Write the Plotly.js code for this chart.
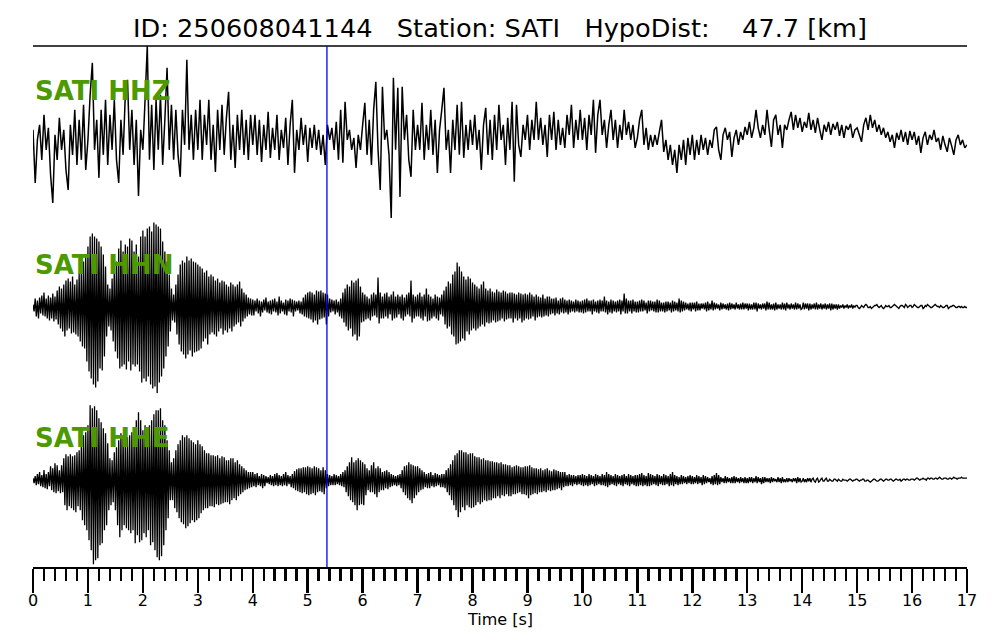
<!DOCTYPE html>
<html>
<head>
<meta charset="utf-8">
<script src="https://cdn.plot.ly/plotly-3.0.1.min.js"></script>
<style>
  html, body { margin: 0; padding: 0; background: #ffffff; }
  #chart { width: 1000px; height: 640px; }
</style>
</head>
<body>
<div id="chart"></div>
<script>
// ---- metadata ----
const eventId = "250608041144";
const station = "SATI";
const hypoDistKm = 47.7;
const channels = ["SATI HHZ", "SATI HHN", "SATI HHE"];
const pickTime = 5.35;                 // blue marker [s]
const sampleIntervals = [0.04, 0.02, 0.02]; // [s] per channel
const xTickLabels = ["0","1","2","3","4","5","6","7","8","9","10","11","12","13","14","15","16","17"];
const xAxisTitle = "Time [s]";

// ---- amplitudes (arbitrary counts), one row per second ----
const hhz = [
  3,-50,-7,8,-27,18,-17,5,-42,-70,-2,-27,15,-17,3,-37,-57,8,-22,23,-32,13,-27,28,-37,
  -7,38,70,-17,13,-45,23,-22,33,-32,18,-17,33,-27,-50,13,-22,38,53,-17,23,-32,13,-63,3,
  -17,33,87,-27,28,-37,33,-17,38,-32,13,65,-17,28,-27,23,-22,-44,23,-12,73,-17,18,-27,23,
  -17,33,-27,18,-12,33,-27,8,-39,23,-17,28,-22,15,41,-27,8,-35,18,-17,23,-22,13,-27,18,
  -12,18,-22,13,-29,8,-17,21,-25,5,-17,18,-27,3,-15,15,-32,8,33,-40,3,-17,15,-12,8,
  -29,5,-15,8,-17,3,-22,-2,-32,8,-7,5,-17,11,-27,23,-30,31,-7,3,-17,-5,-35,-2,-17,
  8,30,-22,13,-32,23,51,-17,-57,46,-7,3,-22,-85,55,-17,45,-64,46,-7,18,-27,-44,23,-17,
  8,-17,30,-27,8,-17,23,-22,13,-40,3,23,45,-17,3,-40,13,-17,28,-22,31,-25,8,-17,13,
  -12,18,-17,3,-37,8,25,-22,13,-27,18,-17,28,-7,8,-32,15,-17,31,-49,28,-12,-24,8,-7,
  18,-17,13,-7,31,-7,15,-12,8,-24,18,-7,21,-17,13,-12,5,-15,18,-2,28,-15,13,-7,23,
  -7,15,-17,18,-2,33,-20,18,33,-2,13,-15,8,23,-7,13,-15,8,-7,23,-2,11,-7,8,-15,
  -5,13,23,-12,5,-17,-2,-14,-2,-12,1,13,-19,-7,-27,-12,-32,-17,-40,-12,-27,-7,-32,-5,-22,
  -2,-27,-7,-22,-2,-17,-5,-22,-7,-15,3,6,-17,-27,-2,5,-7,1,-24,-5,3,-12,1,-7,6,
  -2,11,-5,5,23,5,-5,8,-2,23,3,-14,13,18,-2,8,-15,8,3,13,21,3,18,5,15,
  1,11,5,20,3,13,0,15,3,-7,8,1,11,-2,9,3,11,-3,8,-5,7,3,9,-5,3,
  5,-2,-9,8,15,3,18,5,13,1,8,-2,5,-5,1,-9,-2,-15,0,-7,3,-9,1,-12,2,
  -7,1,-12,-3,-20,-5,1,-12,-2,-7,3,-9,-5,-17,-3,-12,-19,-5,-13,-22,-7,-2,-12,-7,-15,-12
];
const hhn = [
  2,-5,8,-10,6,-12,9,-7,11,-9,14,-10,8,-12,11,-14,9,-12,13,-15,10,-13,16,-18,20,-22,18,-25,22,-30,26,-24,28,-22,25,-27,30,-26,22,-28,27,-30,33,-35,38,-40,45,-42,50,-55,
  60,-65,70,-72,73,-78,70,-81,68,-75,65,-62,60,-64,52,-50,40,-30,22,-20,18,-24,28,-35,40,-45,45,-52,58,-62,66,-60,55,-58,62,-63,60,-55,68,-64,66,-58,55,-60,62,-58,50,-65,70,-76,
  76,-72,70,-75,78,-70,80,-78,75,-82,84,-80,82,-87,80,-76,78,-70,65,-62,55,-50,45,-40,32,-25,18,-14,12,-16,22,-28,32,-38,42,-45,46,-48,44,-52,50,-48,46,-44,48,-50,45,-46,44,-45,
  42,-44,40,-42,38,-35,34,-32,36,-38,30,-28,32,-26,30,-28,26,-30,28,-25,24,-22,26,-28,25,-24,22,-26,20,-22,24,-25,22,-20,20,-18,22,-16,25,-20,18,-15,14,-12,12,-10,9,-8,8,-9,
  7,-9,6,-5,8,-7,6,-10,5,-6,7,-4,9,-6,5,-7,6,-8,7,-5,8,-6,5,-9,10,-7,6,-5,4,-8,7,-9,6,-5,8,-6,7,-10,6,-5,5,-4,6,-7,5,-8,9,-10,12,-11,
  14,-12,15,-13,14,-16,12,-14,16,-18,15,-13,16,-12,14,-11,13,-18,12,-10,8,-6,7,-5,6,-8,7,-6,5,-10,8,-12,14,-16,18,-20,22,-24,20,-22,26,-30,24,-28,26,-34,28,-30,20,-16,
  14,-15,12,-13,10,-12,8,-14,12,-10,14,-9,12,-11,29,-17,14,-12,10,-12,13,-10,14,-12,10,-8,12,-14,15,-12,10,-11,12,-8,10,-12,12,-14,9,-10,12,-8,14,-10,26,-16,12,-12,10,-10,
  12,-10,14,-12,10,-14,12,-10,18,-15,12,-14,10,-12,8,-10,12,-12,10,-14,9,-8,12,-10,16,-18,20,-22,25,-20,23,-28,32,-30,35,-38,44,-37,40,-35,35,-32,30,-34,27,-25,30,-28,28,-24,
  24,-22,22,-24,20,-22,18,-20,22,-18,25,-20,18,-16,16,-17,18,-16,15,-14,14,-16,17,-15,15,-14,14,-12,16,-15,15,-13,13,-12,14,-12,14,-16,13,-12,12,-14,14,-12,13,-16,12,-14,13,-12,
  12,-13,14,-12,12,-10,10,-14,12,-11,10,-10,9,-11,12,-10,8,-9,10,-10,10,-8,8,-7,8,-9,9,-7,6,-8,8,-6,9,-7,7,-6,6,-8,7,-6,6,-5,5,-6,7,-5,6,-6,5,-6,
  6,-7,7,-6,8,-5,6,-5,6,-8,7,-5,5,-6,6,-7,7,-5,6,-5,10,-6,6,-8,5,-6,7,-7,6,-5,5,-6,6,-5,7,-8,6,-5,13,-7,8,-7,6,-5,6,-7,7,-5,5,-6,
  5,-6,6,-5,7,-5,6,-4,4,-7,6,-5,6,-4,5,-5,5,-6,7,-6,6,-5,4,-5,4,-6,5,-5,5,-4,4,-6,6,-5,5,-4,4,-5,8,-6,6,-5,5,-4,4,-3,3,-4,4,-5,
  4,-3,4,-5,5,-4,3,-4,3,-2,3,-3,4,-5,5,-4,3,-3,6,-4,4,-3,3,-2,2,-4,4,-3,3,-2,2,-3,3,-4,4,-3,3,-2,2,-3,4,-2,2,-3,3,-3,4,-3,3,-2,
  3,-4,3,-3,2,-3,4,-3,4,-5,3,-2,2,-3,3,-2,3,-4,5,-3,4,-3,2,-3,3,-4,4,-3,2,-2,2,-3,4,-3,3,-4,4,-2,2,-3,3,-2,2,-3,4,-3,3,-2,2,-3,
  -2,4,-3,3,-2,3,-4,3,-3,2,-2,3,-3,4,-3,2,-2,3,-3,2,-2,3,-3,2,-2,3,-4,3,-3,2,-2,2,-3,2,-2,1,-1,2,-2,1,-1,2,-2,1,-1,2,-2,1,-1,1,
  1,-1,-2,-1,1,0,-1,1,2,1,-1,-1,0,-2,-1,0,1,1,2,0,-1,0,1,-1,-2,-1,1,0,0,1,-1,-1,0,1,2,1,0,-1,-2,0,1,1,0,-1,2,1,-1,0,1,1,
  -1,0,2,1,0,-1,-1,0,1,1,-2,-1,1,0,2,1,0,-1,-1,0,1,2,1,0,0,-1,1,0,-1,-1,0,1,1,-2,-1,0,0,1,1,0,-1,-1,0,0,-1,0,-1,-1,0,-1,-1
];
const hhe = [
  2,-3,4,-5,6,-4,8,-6,5,-7,10,-8,6,-9,8,-6,14,-10,12,-12,17,-13,15,-11,10,-13,15,-12,22,-25,26,-30,24,-26,26,-28,24,-30,25,-32,28,-26,30,-30,35,-40,45,-45,48,-50,
  55,-60,75,-70,72,-84,74,-80,70,-78,62,-65,58,-63,52,-50,47,-45,37,-30,22,-25,20,-22,28,-30,33,-45,40,-57,47,-50,45,-45,40,-48,43,-50,45,-53,48,-50,45,-63,60,-55,68,-62,60,-60,
  50,-53,55,-57,48,-50,55,-65,60,-62,66,-70,70,-77,70,-80,72,-76,60,-65,55,-50,40,-38,30,-20,18,-20,22,-28,30,-32,36,-38,40,-42,45,-44,43,-48,45,-46,42,-43,40,-40,38,-42,36,-40,
  40,-38,36,-33,34,-30,30,-28,27,-28,27,-26,25,-26,25,-27,24,-24,25,-25,22,-24,24,-23,23,-22,20,-22,20,-24,22,-20,22,-18,18,-20,20,-16,16,-14,14,-12,12,-10,10,-9,8,-8,8,-7,
  8,-6,6,-7,7,-5,4,-6,6,-8,5,-6,4,-3,3,-4,5,-5,4,-6,6,-5,7,-6,5,-5,4,-6,6,-5,8,-6,5,-4,4,-7,6,-8,9,-10,11,-11,12,-12,12,-13,13,-12,13,-14,
  14,-15,13,-14,12,-13,14,-15,13,-12,12,-11,10,-12,13,-14,10,-8,6,-6,5,-5,4,-5,6,-5,5,-4,4,-5,6,-6,8,-7,10,-12,14,-16,18,-20,23,-22,18,-25,20,-30,22,-25,20,-24,
  18,-25,16,-15,12,-10,10,-12,15,-12,18,-14,12,-17,14,-12,12,-10,8,-10,9,-8,10,-9,8,-7,6,-6,5,-5,4,-6,5,-5,6,-8,10,-12,14,-15,15,-18,18,-20,16,-23,15,-18,14,-15,
  14,-12,12,-10,10,-9,8,-7,6,-8,7,-8,8,-6,5,-7,7,-6,6,-5,5,-7,6,-7,6,-8,10,-12,12,-15,16,-20,20,-25,25,-30,27,-37,30,-32,30,-27,28,-30,28,-25,26,-27,27,-28,
  27,-27,24,-25,23,-22,23,-24,21,-22,22,-20,20,-21,20,-20,19,-20,19,-18,18,-18,18,-16,17,-18,18,-15,16,-16,16,-14,15,-16,15,-16,13,-14,14,-14,15,-13,14,-12,13,-14,13,-14,14,-15,
  14,-18,15,-15,13,-14,12,-13,12,-14,11,-12,12,-12,10,-11,11,-12,12,-10,10,-11,9,-10,11,-10,10,-9,9,-8,8,-10,8,-7,8,-6,5,-6,6,-5,5,-6,5,-4,4,-5,5,-4,5,-5,
  6,-6,5,-5,4,-6,6,-5,5,-4,4,-6,6,-5,5,-4,4,-5,6,-5,5,-6,8,-7,6,-5,5,-4,4,-5,6,-6,5,-4,4,-5,5,-6,6,-4,4,-5,6,-6,5,-4,4,-5,5,-6,
  5,-6,6,-5,7,-6,5,-5,4,-6,7,-6,6,-5,5,-4,4,-5,6,-6,5,-4,4,-5,6,-5,5,-4,4,-6,6,-5,8,-6,5,-4,4,-5,3,-4,5,-4,4,-3,3,-4,4,-3,5,-4,
  4,-4,3,-3,5,-4,4,-3,3,-5,5,-4,4,-3,3,-2,2,-4,4,-5,5,-4,7,-5,5,-4,3,-2,2,-3,4,-3,3,-2,2,-3,3,-3,4,-3,3,-2,2,-3,3,-2,2,-3,3,-3,
  2,-3,3,-2,3,-3,2,-2,4,-3,3,-2,2,-4,3,-3,3,-2,2,-2,2,-3,3,-2,2,-1,1,-2,3,-2,2,-3,3,-2,1,-2,2,-2,2,-1,1,-2,2,-1,2,-3,3,-2,2,-2,
  -1,2,-2,1,-2,2,-1,2,-2,1,2,-1,-2,1,2,-2,-1,1,2,-1,-1,1,2,-1,-1,1,0,-1,-1,1,1,0,-1,1,0,-1,-1,1,0,0,0,-1,0,1,1,0,-1,0,0,1,
  1,0,-1,0,0,1,1,-1,-1,0,0,-1,-2,-1,0,1,1,0,-1,-1,0,1,1,0,-1,0,1,1,0,0,1,1,0,-1,0,1,1,0,0,1,-1,0,1,1,0,1,1,0,0,1,
  1,1,0,1,2,2,1,0,1,1,2,1,1,0,2,2,1,2,2,1,1,2,2,1,2,3,2,1,1,2,2,2,1,1,2,2,1,2,3,2,2,1,2,2,2,3,2,2,2,2,2
];

const series = [hhz, hhn, hhe];
const axisIds = ["y", "y2", "y3"];
const lineWidths = [1.5, 1.3, 1.3];
const FONT = "DejaVu Sans, Liberation Sans, sans-serif";

const traces = series.map((vals, k) => ({
  type: "scatter",
  mode: "lines",
  x: vals.map((_, i) => +(i * sampleIntervals[k]).toFixed(2)),
  y: vals,
  xaxis: "x",
  yaxis: axisIds[k],
  line: { color: "#000000", width: lineWidths[k], simplify: false },
  hoverinfo: "skip",
  showlegend: false
}));

const amp = 86.8;
const yAxisBase = { range: [-amp, amp], visible: false, showgrid: false, zeroline: false, fixedrange: true, anchor: "x" };

const nb = "\u00A0";
const titleText = "ID: " + eventId + nb + nb + nb + "Station: " + station + nb + nb + nb +
                  "HypoDist:" + nb + nb + nb + nb + hypoDistKm.toFixed(1) + " [km]";

const labelY = [0.9135, 0.5788, 0.2471];

const annotations = channels.map((name, k) => ({
  text: name, xref: "paper", yref: "paper", x: 0, y: labelY[k],
  xanchor: "left", yanchor: "middle", showarrow: false,
  font: { family: FONT, size: 26, color: "#4c9a00", weight: "bold" }
}));
annotations.push({
  text: xAxisTitle, xref: "paper", yref: "paper", x: 0.5, y: -0.1,
  xanchor: "center", yanchor: "middle", showarrow: false,
  font: { family: FONT, size: 16, color: "#000000" }
});

const layout = {
  width: 1000, height: 640,
  margin: { l: 33, r: 33, t: 46, b: 73, pad: 0 },
  paper_bgcolor: "#ffffff", plot_bgcolor: "#ffffff",
  showlegend: false,
  title: {
    text: titleText,
    font: { family: FONT, size: 25.6, color: "#000000" },
    x: 0.5, xanchor: "center", xref: "container",
    y: 1 - 28 / 640, yanchor: "middle", yref: "container"
  },
  xaxis: {
    range: [0, 17], anchor: "y3", domain: [0, 1],
    showline: true, linecolor: "#000000", linewidth: 1.5,
    showgrid: false, zeroline: false,
    tickmode: "array",
    tickvals: xTickLabels.map(Number), ticktext: xTickLabels,
    ticks: "outside", ticklen: 24, tickwidth: 2.5, tickcolor: "#000000",
    ticklabelstandoff: -6,
    minor: { dtick: 0.2, tick0: 0, ticks: "outside", ticklen: 12, tickwidth: 2.5, tickcolor: "#000000", showgrid: false },
    tickfont: { family: FONT, size: 16, color: "#000000" },
    fixedrange: true
  },
  yaxis:  Object.assign({}, yAxisBase, { domain: [2/3, 1] }),
  yaxis2: Object.assign({}, yAxisBase, { domain: [1/3, 2/3] }),
  yaxis3: Object.assign({}, yAxisBase, { domain: [0, 1/3] }),
  shapes: [
    { type: "line", xref: "paper", yref: "paper", x0: 0, x1: 1, y0: 1, y1: 1,
      line: { color: "#000000", width: 1.5 } },
    { type: "line", xref: "x", yref: "paper", x0: pickTime, x1: pickTime, y0: 0, y1: 1,
      line: { color: "#0000ff", width: 1.3 }, layer: "above" }
  ],
  annotations: annotations
};

Plotly.newPlot("chart", traces, layout, { staticPlot: true, displayModeBar: false });
</script>
</body>
</html>
